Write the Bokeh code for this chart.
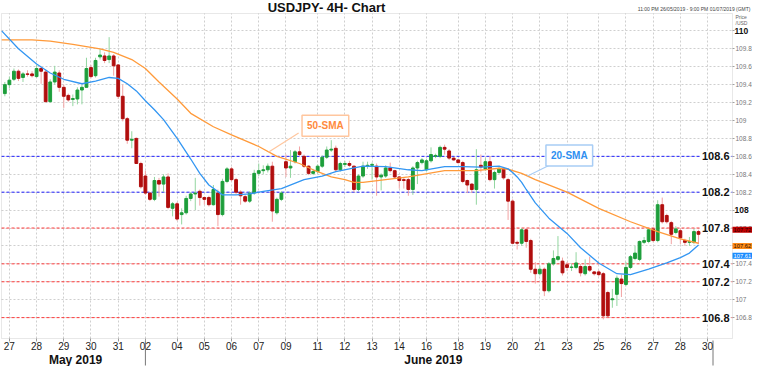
import numpy as np
from bokeh.plotting import figure
from bokeh.models import FixedTicker, Range1d, Label, ColumnDataSource, BoxAnnotation
from bokeh.embed import file_html
from bokeh.resources import INLINE

# ---------------- data ----------------
opens = [109.30, 109.40, 109.46, 109.55, 109.48, 109.52, 109.52, 109.49, 109.58, 109.54,
         109.21, 109.43, 109.53, 109.37, 109.28, 109.235, 109.24, 109.34, 109.37, 109.59,
         109.50, 109.71, 109.72, 109.68, 109.72, 109.62, 109.27, 109.02, 108.78, 108.80,
         108.52, 108.38, 108.19, 108.12, 108.33, 108.29, 108.37, 108.02, 108.07, 107.95,
         107.97, 108.13, 108.18, 108.21, 108.14, 108.14, 108.06, 108.19, 107.95, 108.32,
         108.46, 108.34, 108.20, 108.15, 108.10, 108.19, 108.41, 108.44, 108.45, 108.49,
         107.97, 108.12, 108.54, 108.47, 108.54, 108.65, 108.60, 108.49, 108.41, 108.43,
         108.49, 108.59, 108.67, 108.69, 108.45, 108.51, 108.52, 108.49, 108.23, 108.38,
         108.49, 108.50, 108.49, 108.37, 108.38, 108.47, 108.44, 108.37, 108.34, 108.34,
         108.23, 108.47, 108.53, 108.45, 108.55, 108.60, 108.60, 108.70, 108.66, 108.58,
         108.56, 108.53, 108.33, 108.29, 108.23, 108.50, 108.46, 108.54, 108.34, 108.42,
         108.46, 108.34, 108.10, 107.64, 107.63, 107.78, 107.66, 107.34, 107.29, 107.34,
         107.10, 107.40, 107.45, 107.43, 107.39, 107.36, 107.36, 107.37, 107.29, 107.37,
         107.31, 107.31, 107.29, 107.08, 107.00, 107.06, 107.23, 107.17, 107.36, 107.46,
         107.45, 107.64, 107.65, 107.79, 107.66, 108.06, 107.94, 107.86, 107.75, 107.77,
         107.66, 107.64, 107.64, 107.76]
highs = [109.43, 109.49, 109.58, 109.57, 109.54, 109.56, 109.55, 109.62, 109.60, 109.57,
         109.46, 109.61, 109.56, 109.40, 109.30, 109.29, 109.37, 109.40, 109.70, 109.62,
         109.70, 109.80, 109.76, 109.93, 109.74, 109.63, 109.40, 109.04, 108.88, 108.81,
         108.54, 108.44, 108.20, 108.37, 108.36, 108.40, 108.41, 108.09, 108.09, 108.02,
         108.16, 108.20, 108.36, 108.23, 108.15, 108.16, 108.28, 108.23, 108.35, 108.48,
         108.48, 108.36, 108.22, 108.17, 108.21, 108.45, 108.52, 108.50, 108.52, 108.54,
         108.14, 108.21, 108.62, 108.67, 108.67, 108.71, 108.62, 108.50, 108.46, 108.51,
         108.61, 108.71, 108.78, 108.72, 108.54, 108.55, 108.55, 108.50, 108.40, 108.54,
         108.54, 108.53, 108.52, 108.41, 108.50, 108.53, 108.45, 108.38, 108.36, 108.36,
         108.49, 108.55, 108.58, 108.57, 108.70, 108.63, 108.72, 108.73, 108.68, 108.59,
         108.57, 108.55, 108.34, 108.30, 108.68, 108.62, 108.58, 108.60, 108.44, 108.48,
         108.47, 108.36, 108.12, 107.66, 107.80, 107.80, 107.68, 107.42, 107.38, 107.36,
         107.42, 107.55, 107.71, 107.47, 107.42, 107.40, 107.53, 107.40, 107.45, 107.48,
         107.32, 107.33, 107.31, 107.10, 107.12, 107.27, 107.28, 107.42, 107.50, 107.60,
         107.66, 107.70, 107.80, 107.81, 108.11, 108.14, 107.96, 107.88, 107.82, 107.80,
         107.68, 107.70, 107.79, 107.78]
lows = [109.27, 109.36, 109.44, 109.44, 109.43, 109.49, 109.48, 109.48, 109.41, 109.21,
        109.20, 109.40, 109.32, 109.14, 109.21, 109.16, 109.18, 109.18, 109.37, 109.47,
        109.48, 109.68, 109.64, 109.64, 109.50, 109.24, 108.99, 108.74, 108.69, 108.52,
        108.24, 108.17, 108.10, 108.10, 108.15, 108.20, 108.01, 107.93, 107.88, 107.84,
        107.95, 108.10, 108.00, 108.05, 108.06, 108.04, 108.05, 107.82, 107.93, 108.30,
        108.32, 108.18, 108.06, 108.08, 108.08, 108.17, 108.38, 108.40, 108.42, 107.87,
        107.95, 108.10, 108.37, 108.36, 108.52, 108.60, 108.47, 108.39, 108.39, 108.41,
        108.47, 108.57, 108.65, 108.43, 108.43, 108.48, 108.48, 108.20, 108.21, 108.36,
        108.46, 108.34, 108.16, 108.22, 108.36, 108.42, 108.35, 108.24, 108.24, 108.16,
        108.17, 108.29, 108.51, 108.43, 108.53, 108.58, 108.58, 108.62, 108.56, 108.55,
        108.52, 108.30, 108.19, 108.19, 108.06, 108.42, 108.44, 108.32, 108.24, 108.40,
        108.34, 107.89, 107.62, 107.56, 107.60, 107.58, 107.30, 107.18, 107.27, 107.04,
        107.08, 107.38, 107.43, 107.27, 107.32, 107.32, 107.34, 107.26, 107.27, 107.31,
        107.27, 107.26, 106.78, 106.80, 106.91, 106.93, 107.03, 107.15, 107.34, 107.44,
        107.43, 107.62, 107.63, 107.64, 107.64, 107.85, 107.85, 107.62, 107.73, 107.62,
        107.60, 107.60, 107.62, 107.62]
closes = [109.40, 109.45, 109.55, 109.47, 109.52, 109.515, 109.50, 109.58, 109.55, 109.21,
          109.43, 109.54, 109.37, 109.27, 109.23, 109.245, 109.34, 109.37, 109.58, 109.49,
          109.67, 109.73, 109.67, 109.72, 109.61, 109.27, 109.02, 108.78, 108.79, 108.52,
          108.26, 108.19, 108.12, 108.33, 108.29, 108.37, 108.03, 108.07, 107.90, 107.97,
          108.13, 108.18, 108.19, 108.14, 108.12, 108.06, 108.23, 107.95, 108.32, 108.46,
          108.34, 108.20, 108.16, 108.10, 108.19, 108.41, 108.44, 108.45, 108.49, 107.99,
          108.12, 108.19, 108.47, 108.49, 108.65, 108.62, 108.49, 108.41, 108.43, 108.49,
          108.59, 108.67, 108.68, 108.45, 108.52, 108.52, 108.50, 108.23, 108.38, 108.49,
          108.50, 108.51, 108.37, 108.39, 108.47, 108.44, 108.37, 108.33, 108.33, 108.23,
          108.47, 108.53, 108.56, 108.55, 108.62, 108.61, 108.70, 108.68, 108.58, 108.56,
          108.53, 108.32, 108.28, 108.23, 108.45, 108.48, 108.54, 108.34, 108.42, 108.46,
          108.36, 108.10, 107.63, 107.63, 107.78, 107.65, 107.34, 107.29, 107.34, 107.10,
          107.40, 107.46, 107.48, 107.30, 107.36, 107.365, 107.41, 107.30, 107.37, 107.33,
          107.29, 107.28, 106.82, 106.82, 107.01, 107.24, 107.18, 107.36, 107.48, 107.52,
          107.65, 107.66, 107.78, 107.66, 108.06, 107.87, 107.87, 107.73, 107.79, 107.69,
          107.64, 107.65, 107.76, 107.73]

sma20_idx = [-0.7, 3, 7, 10, 13, 17, 20, 23, 25, 27, 29, 31, 33, 35, 38, 41, 43, 45, 48, 51,
             54, 57, 61, 66, 70, 73, 76, 79, 84, 89, 92, 97, 101, 105, 109, 111, 112, 113,
             114, 115, 117, 120, 124, 127, 131, 135, 138, 142, 146, 149, 151, 153]
sma20_val = [110.00, 109.80, 109.63, 109.53, 109.46, 109.41, 109.44, 109.48, 109.47, 109.41,
             109.33, 109.22, 109.12, 109.01, 108.80, 108.57, 108.41, 108.28, 108.17, 108.17,
             108.18, 108.21, 108.24, 108.34, 108.38, 108.43, 108.46, 108.49, 108.485, 108.45,
             108.44, 108.485, 108.485, 108.48, 108.49, 108.46, 108.42, 108.37, 108.31, 108.23,
             108.08, 107.91, 107.74, 107.58, 107.41, 107.29, 107.28, 107.34, 107.41, 107.47,
             107.52, 107.61]
sma50_idx = [-0.7, 6, 10, 15, 21, 24, 28, 31, 34, 38, 41, 46, 50, 56, 60, 65, 68, 72, 75, 77,
             79, 84, 89, 97, 104, 109, 111, 114, 117, 124, 131, 138, 144, 149, 153]
sma50_val = [109.90, 109.90, 109.885, 109.85, 109.80, 109.76, 109.68, 109.58, 109.43, 109.24,
             109.08, 108.93, 108.84, 108.71, 108.60, 108.52, 108.45, 108.37, 108.34, 108.31,
             108.31, 108.34, 108.37, 108.44, 108.44, 108.467, 108.456, 108.41, 108.34, 108.20,
             108.02, 107.87, 107.76, 107.68, 107.63]

day_ticks = [1, 7, 13, 19, 25, 31, 38, 44, 50, 56, 62, 69, 75, 81, 87, 93, 100, 106, 112,
             118, 124, 131, 137, 143, 149, 155]
day_labels = ["27", "28", "29", "30", "31", "02", "04", "05", "06", "07", "09", "11", "12",
              "13", "14", "16", "18", "19", "20", "21", "23", "25", "26", "27", "28", "30"]
price_ticks = [106.8, 107.0, 107.2, 107.4, 107.6, 107.8, 108.0, 108.2, 108.4, 108.6, 108.8,
               109.0, 109.2, 109.4, 109.6, 109.8, 110.0]
bold_price_ticks = [110.0, 108.0]
blue_levels = [108.6, 108.2]
red_levels = [107.8, 107.4, 107.2, 106.8]
months = ["May 2019", "June 2019"]
month_centers = [15.6, 94.5]
month_starts = [31, 156.2]
last_close = 107.72
last_sma50 = 107.62
last_sma20 = 107.61

# ---------------- layout ----------------
W, H = 752, 366
CL, CR, CT, CB = 1, 732, 13, 338          # chart box in figure pixels
X0c, X1c = -0.74, 160.5                   # chart box in data units
Y0c, Y1c = 106.567, 110.194
xs = (CR - CL) / (X1c - X0c)
ys = (CB - CT) / (Y1c - Y0c)
XF0, XF1 = X0c - CL / xs, X1c + (W - CR) / xs
YF0, YF1 = Y0c - (H - CB) / ys, Y1c + CT / ys
FONT = "Liberation Sans"


def sy(fy):      # figure pixel row (from top) -> screen y for labels
    return H - fy


def dyv(fy):     # figure pixel row -> data y
    return YF1 - fy / ys


p = figure(width=W, height=H, output_backend="svg", toolbar_location=None,
           x_range=Range1d(XF0, XF1), y_range=Range1d(YF0, YF1),
           y_axis_location="right", x_axis_location="below",
           min_border=0, min_border_left=0, min_border_right=0, min_border_top=0,
           min_border_bottom=0, background_fill_color="white", border_fill_color="white")
p.outline_line_color = None

# axes placed on the chart box edges
xa = p.xaxis[0]
xa.fixed_location = Y0c
xa.ticker = FixedTicker(ticks=day_ticks)
xa.major_label_overrides = {t: s for t, s in zip(day_ticks, day_labels)}
xa.axis_line_color = None
xa.major_tick_in = 0
xa.major_tick_out = 3
xa.major_tick_line_color = "#999999"
xa.minor_tick_line_color = None
xa.major_label_standoff = 0
xa.major_label_text_font = FONT
xa.major_label_text_font_size = "10px"
xa.major_label_text_color = "#222222"

ya = p.yaxis[0]
ya.fixed_location = X1c
ya.ticker = FixedTicker(ticks=price_ticks)
ya.major_label_overrides = {t: " " for t in bold_price_ticks}
ya.axis_line_color = None
ya.major_tick_in = 0
ya.major_tick_out = 2
ya.major_tick_line_color = "#a0a0a0"
ya.minor_tick_line_color = None
ya.major_label_standoff = 1
ya.major_label_text_font = FONT
ya.major_label_text_font_size = "6.5px"
ya.major_label_text_color = "#777777"

p.xgrid[0].cross_bounds = (Y0c, Y1c)
p.ygrid[0].cross_bounds = (X0c, X1c)
for g in (p.xgrid[0], p.ygrid[0]):
    g.grid_line_color = "#cfcfcf"
    g.grid_line_dash = "2 2"
    g.grid_line_width = 1

# horizontal levels
p.segment(x0=X0c, x1=X1c, y0=blue_levels, y1=blue_levels, line_color="#1f1fff",
          line_dash="3 2", line_width=1)
p.segment(x0=X0c, x1=X1c, y0=red_levels, y1=red_levels, line_color="#ff3b3b",
          line_dash="3 2", line_width=1)

# candles
idx = np.arange(len(opens))
o = np.array(opens); h = np.array(highs); l = np.array(lows); c = np.array(closes)
up = c >= o
src = ColumnDataSource(dict(
    x=idx, high=h, low=l, top=np.maximum(o, c), bottom=np.minimum(o, c),
    body=np.where(up, "#1d9e3b", "#b10e0e"),
    wick=np.where(up, "#93d6a0", "#f2a3a3")))
p.segment(x0="x", y0="low", x1="x", y1="high", color="wick", line_width=1, source=src)
p.vbar(x="x", width=0.62, top="top", bottom="bottom", fill_color="body",
       line_color="body", line_width=1, source=src)

# moving averages
p.line(sma50_idx, sma50_val, line_color="#ff9a3a", line_width=1.3)
p.line(sma20_idx, sma20_val, line_color="#3396f2", line_width=1.3)


# callouts
def callout(txt, cx, cy, ex, ey, ax, ay, col, border):
    p.segment(x0=[ex], y0=[ey], x1=[ax], y1=[ay], line_color=border, line_width=1.2)
    p.add_layout(Label(x=cx, y=cy, text=txt, text_align="center", text_baseline="middle",
                       text_font=FONT, text_font_size="10px", text_font_style="bold",
                       text_color=col, background_fill_color="white",
                       border_line_color=border, border_line_width=1.5, padding=5))


a50 = 58.2
callout("50-SMA", 70.7, 108.94, 64.8, 108.86, a50,
        float(np.interp(a50, sma50_idx, sma50_val)), "#ff8a3d", "#ffc69e")
a20 = 115.3
callout("20-SMA", 124.5, 108.61, 120.1, 108.50, a20,
        float(np.interp(a20, sma50_idx, sma50_val)), "#2f8ff0", "#a8cdf5")

# level labels inside the chart
for lv in blue_levels + red_levels:
    p.add_layout(Label(x=CR - 2, x_units="screen", y=lv, text=f"{lv:.1f}",
                       text_align="right", text_baseline="middle", text_font=FONT,
                       text_font_size="11px", text_font_style="bold", text_color="#111111",
                       background_fill_color="white", padding=1))

# chart border
p.add_layout(BoxAnnotation(left=X0c, right=X1c, bottom=Y0c, top=Y1c, fill_alpha=0,
                           line_color="#b4b4b4", line_width=1))

# bold axis numbers
for t in bold_price_ticks:
    p.add_layout(Label(x=CR + 2, x_units="screen", y=t, text=f"{t:g}", text_align="left",
                       text_baseline="middle", text_font=FONT, text_font_size="8.5px",
                       text_font_style="bold", text_color="#111111"))

# last value boxes
for val, ypos, bg, fg in [(last_close, 107.78, "#c00000", "#2a0000"),
                          (last_sma50, 107.60, "#ff8c1a", "#2a1000"),
                          (last_sma20, 107.49, "#1a8cff", "#ffffff")]:
    p.add_layout(Label(x=CR, x_units="screen", y=ypos, text=f"{val:.2f}",
                       text_align="left", text_baseline="middle", text_font=FONT,
                       text_font_size="5.8px", text_color=fg, background_fill_color=bg,
                       padding=1))

# month labels and separators
for m, cx in zip(months, month_centers):
    p.add_layout(Label(x=cx, y=sy(359), y_units="screen", text=m, text_align="center",
                       text_baseline="middle", text_font=FONT, text_font_size="12px",
                       text_font_style="bold", text_color="#111111"))
p.segment(x0=month_starts, x1=month_starts, y0=dyv(CB + 2), y1=dyv(H - 1),
          line_color="#777777", line_width=1)

# title and header texts
p.add_layout(Label(x=326, x_units="screen", y=sy(7), y_units="screen",
                   text="USDJPY- 4H- Chart", text_align="center", text_baseline="middle",
                   text_font=FONT, text_font_size="13px", text_font_style="bold",
                   text_color="#111111"))
p.add_layout(Label(x=W - 2, x_units="screen", y=sy(8), y_units="screen",
                   text="11:00 PM 26/05/2019 - 9:00 PM 01/07/2019 (GMT)", text_align="right",
                   text_baseline="middle", text_font=FONT, text_font_size="5px",
                   text_color="#444444"))
p.add_layout(Label(x=CR + 3, x_units="screen", y=sy(16), y_units="screen", text="Price",
                   text_align="left", text_baseline="middle", text_font=FONT,
                   text_font_size="5px", text_color="#666666"))
p.add_layout(Label(x=CR + 3, x_units="screen", y=sy(22), y_units="screen", text="/USD",
                   text_align="left", text_baseline="middle", text_font=FONT,
                   text_font_size="5px", text_color="#666666"))

open("out.html", "w").write(file_html(p, INLINE))
